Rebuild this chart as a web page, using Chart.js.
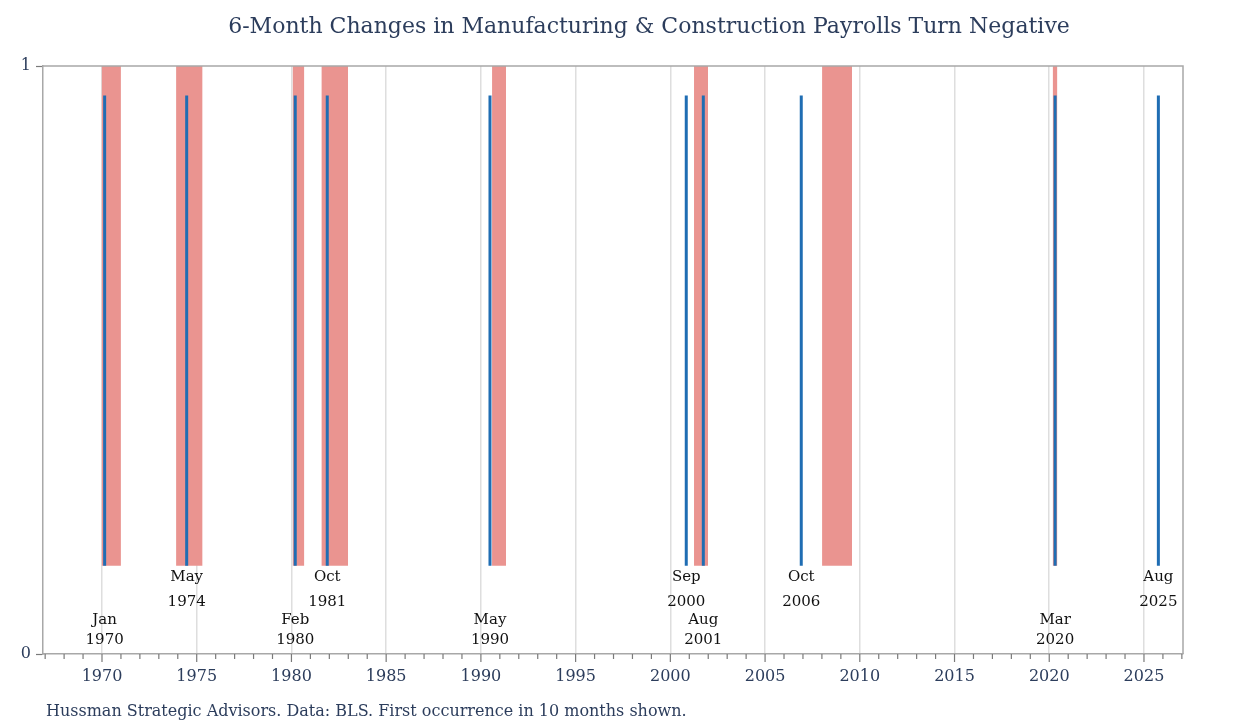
<!DOCTYPE html>
<html><head><meta charset="utf-8">
<script src="https://cdn.jsdelivr.net/npm/chart.js@4.4.1/dist/chart.umd.min.js"></script>
<style>html,body{margin:0;padding:0;background:#fff}#wrap{width:1239px;height:728px;position:relative}</style>
</head><body><div id="wrap"><canvas id="c"></canvas></div>
<script>
const chartTitle = '6-Month Changes in Manufacturing & Construction Payrolls Turn Negative';
const footnote = 'Hussman Strategic Advisors. Data: BLS. First occurrence in 10 months shown.';

// Shaded (recession) periods, decimal years
const recessionStart = [1969.98, 1973.91, 1980.06, 1981.58, 1990.59, 2001.25, 2008.01, 2020.18];
const recessionEnd   = [1971.00, 1975.31, 1980.68, 1982.99, 1991.33, 2001.99, 2009.59, 2020.43];
const shadeBottom = 0.15;
const shadeTop = 1;

// Signal occurrences (blue lines), decimal years
const signalDates  = [1970.14, 1974.47, 1980.20, 1981.89, 1990.48, 2000.84, 2001.74, 2006.91, 2020.31, 2025.76];
const signalMonths = ['Jan', 'May', 'Feb', 'Oct', 'May', 'Sep', 'Aug', 'Oct', 'Mar', 'Aug'];
const signalYears  = ['1970', '1974', '1980', '1981', '1990', '2000', '2001', '2006', '2020', '2025'];
const signalRow    = [0, 1, 0, 1, 0, 1, 0, 1, 0, 1]; // 1 = upper label row
const signalLow = 0.15;
const signalHigh = 0.95;

// label rows in y-axis units: [month line, year line]
const labelRowY = { 1: [0.130, 0.089], 0: [0.057, 0.023] };

const xMin = 1966.886, xMax = 2027.06;
const xTickYears = [];
for (let y = 1967; y <= 2027; y++) xTickYears.push(y);
const yTickValues = [0, 1];

const NAVY = '#2c3d5c';
const FONT = "'DejaVu Serif', serif";

const datasets = [];
signalDates.forEach((d, i) => {
  datasets.push({
    type: 'line', label: 'signal ' + i, order: 0,
    data: [{x: d, y: signalLow}, {x: d, y: signalHigh}],
    borderColor: '#1f6db3', borderWidth: 3, pointRadius: 0, fill: false, borderCapStyle: 'butt'
  });
});
recessionStart.forEach((s, i) => {
  datasets.push({
    type: 'line', label: 'shade ' + i, order: 1,
    data: [{x: s, y: shadeTop}, {x: recessionEnd[i], y: shadeTop}],
    borderWidth: 0, borderColor: 'rgba(0,0,0,0)', pointRadius: 0,
    backgroundColor: '#ea9490', fill: {target: {value: shadeBottom}}
  });
});

const decor = {
  id: 'decor',
  afterDraw(chart) {
    const ctx = chart.ctx, a = chart.chartArea, xs = chart.scales.x, ys = chart.scales.y;
    ctx.save();
    // frame top/right
    ctx.strokeStyle = '#a8a8a8'; ctx.lineWidth = 1.5;
    ctx.beginPath();
    ctx.moveTo(a.left, a.top); ctx.lineTo(a.right, a.top); ctx.lineTo(a.right, a.bottom);
    ctx.stroke();
    // x tick marks
    ctx.strokeStyle = '#7a7a7a'; ctx.lineWidth = 1.2;
    xTickYears.forEach(y => {
      const px = xs.getPixelForValue(y);
      if (px < a.left - 0.5 || px > a.right + 0.5) return;
      ctx.beginPath();
      ctx.moveTo(px, a.bottom);
      ctx.lineTo(px, a.bottom + (y % 5 === 0 ? 8 : 5));
      ctx.stroke();
    });
    // signal labels
    ctx.fillStyle = '#111'; ctx.font = '15px ' + FONT;
    ctx.textAlign = 'center'; ctx.textBaseline = 'middle';
    signalDates.forEach((d, i) => {
      const px = xs.getPixelForValue(d);
      const rows = labelRowY[signalRow[i]];
      ctx.fillText(signalMonths[i], px, ys.getPixelForValue(rows[0]));
      ctx.fillText(signalYears[i], px, ys.getPixelForValue(rows[1]));
    });
    // title
    ctx.fillStyle = NAVY;
    let ts = 22;
    ctx.font = ts + 'px ' + FONT;
    while (ctx.measureText(chartTitle).width > 846 && ts > 12) { ts -= 0.5; ctx.font = ts + 'px ' + FONT; }
    ctx.textAlign = 'center';
    ctx.fillText(chartTitle, 649, 27);
    // footnote
    let fs = 16;
    ctx.font = fs + 'px ' + FONT;
    while (ctx.measureText(footnote).width > 700 && fs > 10) { fs -= 0.5; ctx.font = fs + 'px ' + FONT; }
    ctx.textAlign = 'left';
    ctx.fillText(footnote, 46, 712);
    ctx.restore();
  }
};

new Chart(document.getElementById('c'), {
  type: 'line',
  data: { datasets },
  options: {
    responsive: true, maintainAspectRatio: false, animation: false,
    layout: { padding: { top: 66, right: 56, left: 0, bottom: 0 } },
    plugins: { legend: { display: false }, tooltip: { enabled: false }, title: { display: false } },
    scales: {
      x: {
        type: 'linear', min: xMin, max: xMax, z: 1,
        afterBuildTicks(scale) { scale.ticks = xTickYears.map(v => ({value: v})); },
        afterFit(scale) { scale.height = 74; },
        ticks: {
          autoSkip: false, maxRotation: 0, padding: 13,
          color: NAVY, font: { family: FONT, size: 16 },
          callback: v => (v % 5 === 0 ? String(v) : '')
        },
        grid: {
          drawTicks: false,
          color: c => (c.tick && c.tick.value % 5 === 0 ? '#dedede' : 'rgba(0,0,0,0)'),
          lineWidth: 1.5
        },
        border: { display: true, color: '#a8a8a8', width: 1.5 }
      },
      y: {
        type: 'linear', min: 0, max: 1,
        afterBuildTicks(scale) { scale.ticks = yTickValues.map(v => ({value: v})); },
        afterFit(scale) { scale.width = 43; },
        ticks: { padding: 5, color: NAVY, font: { family: FONT, size: 16 } },
        grid: { drawOnChartArea: false, tickLength: 7, tickColor: '#7a7a7a', tickWidth: 1.2 },
        border: { display: true, color: '#a8a8a8', width: 1.5 }
      }
    }
  },
  plugins: [decor]
});
</script>
</body></html>
